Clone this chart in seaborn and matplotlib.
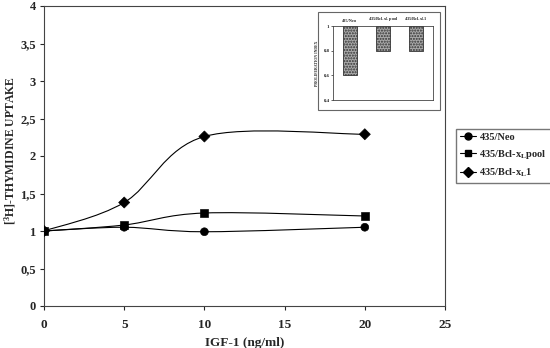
import numpy as np
import pandas as pd
import matplotlib
matplotlib.use("Agg")
import matplotlib.pyplot as plt
import seaborn as sns
from matplotlib.path import Path
from matplotlib.patches import PathPatch, Rectangle
from matplotlib.lines import Line2D
from matplotlib.ticker import FuncFormatter

# main chart data
igf = [0, 5, 10, 20]
neo = [1.0, 1.05, 0.99, 1.05]
bcl_pool = [1.0, 1.08, 1.24, 1.20]
bcl_1 = [1.0, 1.38, 2.26, 2.29]
series_names = ["435/Neo", "435/Bcl-x$_L$pool", "435/Bcl-x$_L$1"]
series_markers = ["o", "s", "D"]

# inset data
inset_cats = ["435/Neo", "435/Bcl-x$_L$ pool", "435/Bcl-x$_L$1"]
inset_values = [0.6, 0.8, 0.8]
inset_ticks = [1, 0.8, 0.6, 0.4]

sns.set_theme(style="ticks")
plt.rcParams["font.family"] = ["Liberation Serif", "DejaVu Serif"]
plt.rcParams["font.weight"] = "bold"
plt.rcParams["mathtext.fontset"] = "custom"
plt.rcParams["mathtext.rm"] = "Liberation Serif:bold"
plt.rcParams["mathtext.bf"] = "Liberation Serif:bold"
plt.rcParams["mathtext.it"] = "Liberation Serif:bold"


def comma(v, pos):
    s = ("%.1f" % v).rstrip("0").rstrip(".")
    return s.replace(".", ",")


def smooth_path(xs, ys):
    # excel-like smoothed line (catmull-rom bezier)
    pts = np.column_stack([xs, ys]).astype(float)
    n = len(pts)
    verts = [pts[0]]
    codes = [Path.MOVETO]
    for i in range(n - 1):
        p0 = pts[i - 1] if i > 0 else pts[i]
        p1 = pts[i]
        p2 = pts[i + 1]
        p3 = pts[i + 2] if i + 2 < n else pts[i + 1]
        verts += [p1 + (p2 - p0) / 6, p2 - (p3 - p1) / 6, p2]
        codes += [Path.CURVE4] * 3
    return Path(verts, codes)


df = pd.DataFrame({
    "igf": igf * 3,
    "uptake": neo + bcl_pool + bcl_1,
    "line": [series_names[0]] * 4 + [series_names[1]] * 4 + [series_names[2]] * 4,
})

fig = plt.figure(figsize=(5.5, 3.48), dpi=100)
ax = fig.add_axes([44 / 550, 42 / 348, 401 / 550, 300 / 348])

for ys in [neo, bcl_pool, bcl_1]:
    ax.add_patch(PathPatch(smooth_path(igf, ys), facecolor="none",
                           edgecolor="black", lw=0.8))

sns.scatterplot(data=df, x="igf", y="uptake", style="line", hue="line",
                markers=dict(zip(series_names, series_markers)),
                palette=["black"] * 3, s=32, edgecolor="black",
                legend=False, ax=ax, zorder=3)

ax.set_xlim(0, 25)
ax.set_ylim(0, 4)
ax.set_xticks(range(0, 26, 5))
ax.set_yticks(np.arange(0, 4.01, 0.5))
ax.yaxis.set_major_formatter(FuncFormatter(comma))
ax.tick_params(direction="out", length=3, width=0.8, labelsize=9.5)
ax.tick_params(axis="x", pad=6)
ax.tick_params(axis="y", pad=3, labelsize=9)
for lab in ax.get_xticklabels() + ax.get_yticklabels():
    lab.set_fontweight("bold")
for sp in ax.spines.values():
    sp.set_linewidth(0.8)
    sp.set_color("#444444")
ax.set_xlabel("IGF-1 (ng/ml)", fontsize=9.5, fontweight="bold", labelpad=5)
ax.set_ylabel("[$^{3}$H]-THYMIDINE UPTAKE", fontsize=8.5, fontweight="bold")
ax.yaxis.set_label_coords(-0.064, 0.52)

handles = [Line2D([], [], color="black", lw=0.8, marker=m, markersize=5)
           for m in series_markers]
fig.legend(handles, series_names, loc="upper left",
           bbox_to_anchor=(456 / 550, 1 - 129 / 348), frameon=True,
           fancybox=False, edgecolor="#555555", fontsize=7.5,
           handlelength=1.6, borderpad=0.35, borderaxespad=0,
           labelspacing=0.55, handletextpad=0.3)

# inset
fig.add_artist(Rectangle((318 / 550, 1 - 110 / 348), 122 / 550, 98 / 348,
                         transform=fig.transFigure, facecolor="white",
                         edgecolor="#666666", lw=0.8, zorder=4))
ins = fig.add_axes([333 / 550, 1 - 100 / 348, 100 / 550, 74 / 348])
ins.set_zorder(5)
inset_df = pd.DataFrame({"cat": inset_cats,
                         "delta": [v - 1 for v in inset_values]})
sns.barplot(data=inset_df, x="cat", y="delta", color="#aaaaaa", width=0.42,
            edgecolor="#333333", linewidth=0.6, hatch="......", ax=ins)
ins.set_ylim(inset_ticks[-1] - 1, 0)
ins.set_yticks([t - 1 for t in inset_ticks])
ins.yaxis.set_major_formatter(FuncFormatter(lambda v, p: comma(v + 1, p)))
ins.xaxis.tick_top()
ins.tick_params(axis="x", length=0, labelsize=3.2, pad=2)
ins.tick_params(axis="y", length=1.5, width=0.5, labelsize=3.5, pad=1)
ins.set_xlabel("")
ins.set_ylabel("PROLIFERATION INDEX", fontsize=2.8, fontweight="bold", labelpad=3)
for sp in ins.spines.values():
    sp.set_linewidth(0.6)
    sp.set_color("#444444")

fig.savefig("out.png", dpi=100)
